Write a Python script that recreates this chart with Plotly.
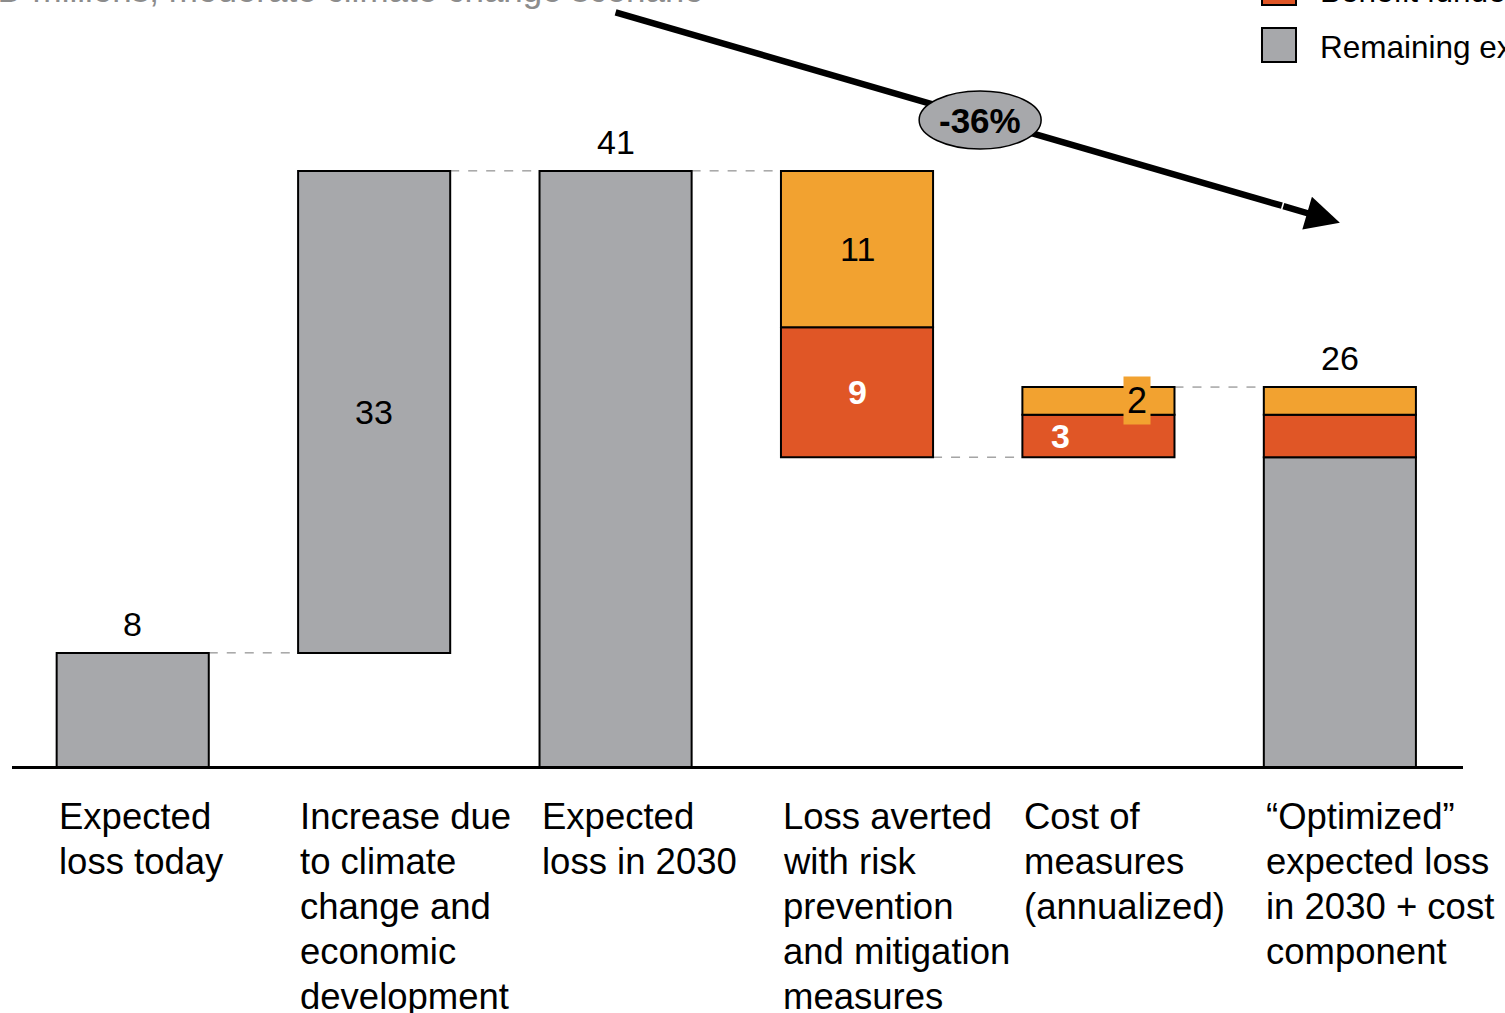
import plotly.graph_objects as go

# ---------------- data ----------------
categories = [
    ["Expected", "loss today"],
    ["Increase due", "to climate", "change and", "economic", "development"],
    ["Expected", "loss in 2030"],
    ["Loss averted", "with risk", "prevention", "and mitigation", "measures"],
    ["Cost of", "measures", "(annualized)"],
    ["\u201cOptimized\u201d", "expected loss", "in 2030 + cost", "component"],
]
loss_today = 7.95
increase = 33.0
loss_2030 = loss_today + increase          # ~41
averted_orange = 10.7
averted_red = 8.9
cost_red = 2.9
cost_orange = 1.9
remaining = loss_2030 - averted_orange - averted_red   # ~21
optimized = remaining + cost_red + cost_orange        # ~26
change_label = "-36%"

title_text = "USD millions, moderate climate change scenario"
legend_labels = ["Benefit funded", "Remaining expected loss"]

GREY = "#A7A8AB"
RED = "#E05626"
ORANGE = "#F2A230"
FONT = "Liberation Sans, Arial, sans-serif"

def fmt(v):
    return str(int(round(v)))

# grey bars
grey_x = [0, 1, 2, 5]
grey_base = [0, loss_today, 0, 0]
grey_y = [loss_today, increase, loss_2030, remaining]
# red bars
red_x = [3, 4, 5]
red_base = [remaining, remaining, remaining]
red_y = [averted_red, cost_red, cost_red]
# orange bars
orange_x = [3, 4, 5]
orange_base = [remaining + averted_red, remaining + cost_red, remaining + cost_red]
orange_y = [averted_orange, cost_orange, cost_orange]

BW = 0.63
W, H = 1505, 1013
ML, MR, MT, MB = 12, 42, 0, 244
YMAX = 52.65
XR = [-0.5, 5.51]
PXU_X = (W - ML - MR) / (XR[1] - XR[0])
PXU_Y = (H - MB - MT) / YMAX
BASE_PX = H - MB

def pxx(px):
    return (px - ML) / (W - ML - MR)

def pxy(py):
    return (BASE_PX - py) / (H - MB - MT)

fig = go.Figure()
line = dict(color="black", width=2)
fig.add_trace(go.Bar(x=grey_x, y=grey_y, base=grey_base, width=BW,
                     marker=dict(color=GREY, line=line), showlegend=False, hoverinfo="skip"))
fig.add_trace(go.Bar(x=red_x, y=red_y, base=red_base, width=BW,
                     marker=dict(color=RED, line=line), showlegend=False, hoverinfo="skip"))
fig.add_trace(go.Bar(x=orange_x, y=orange_y, base=orange_base, width=BW,
                     marker=dict(color=ORANGE, line=line), showlegend=False, hoverinfo="skip"))

shapes = []
# dashed connectors
conn = [(0, 1, loss_today), (1, 2, loss_2030), (2, 3, loss_2030),
        (3, 4, remaining), (4, 5, optimized)]
for a, b, v in conn:
    shapes.append(dict(type="line", xref="x", yref="y", x0=a + BW / 2, x1=b - BW / 2,
                       y0=v, y1=v, line=dict(color="#777777", width=1, dash="dash"), layer="below"))
# baseline axis
shapes.append(dict(type="line", xref="x", yref="y", x0=XR[0], x1=XR[1], y0=0, y1=0,
                   line=dict(color="black", width=6), layer="above"))

# trend arrow
tip_x, tip_y = 5.0, 37.4
start_x, start_y = 2.0, 51.8
ax_px, ay_px = -58, -17
tail_x = tip_x + ax_px / PXU_X
tail_y = tip_y - ay_px / PXU_Y
shapes.append(dict(type="line", xref="x", yref="y", x0=start_x, y0=start_y, x1=tail_x, y1=tail_y,
                   line=dict(color="black", width=6.5), layer="above"))
# ellipse
ell_x = 3.51
ell_y = (BASE_PX - 120) / PXU_Y
shapes.append(dict(type="circle", xref="x", yref="y", xsizemode="pixel", ysizemode="pixel",
                   xanchor=ell_x, yanchor=ell_y, x0=-61, x1=61, y0=-29, y1=29,
                   fillcolor=GREY, line=dict(color="black", width=1.5), layer="above"))
# legend boxes
shapes.append(dict(type="rect", xref="paper", yref="paper", x0=pxx(1262), x1=pxx(1296),
                   y0=pxy(5), y1=pxy(-28), fillcolor=RED, line=dict(color="black", width=2)))
shapes.append(dict(type="rect", xref="paper", yref="paper", x0=pxx(1262), x1=pxx(1296),
                   y0=pxy(62), y1=pxy(28), fillcolor=GREY, line=dict(color="black", width=2)))

ann = []
# category labels (one annotation per line, 45 px apart)
for i, lines in enumerate(categories):
    for k, t in enumerate(lines):
        ann.append(dict(x=i - BW / 2, y=0, xref="x", yref="y", text=t, showarrow=False,
                        xanchor="left", yanchor="middle", align="left", yshift=-47 - 45 * k,
                        font=dict(family=FONT, size=36.5, color="black")))
# totals above bars
for x, v in [(0, loss_today), (2, loss_2030), (5, optimized)]:
    ann.append(dict(x=x, y=v, xref="x", yref="y", text=fmt(v), showarrow=False,
                    yanchor="middle", yshift=29, font=dict(family=FONT, size=34, color="black")))
# inside labels
ann.append(dict(x=1, y=loss_today + increase / 2, text=fmt(increase), showarrow=False,
                font=dict(family=FONT, size=34, color="black")))
ann.append(dict(x=3, y=remaining + averted_red + averted_orange / 2, text=fmt(averted_orange),
                showarrow=False, font=dict(family=FONT, size=34, color="black")))
ann.append(dict(x=3, y=remaining + averted_red / 2, text="<b>%s</b>" % fmt(averted_red),
                showarrow=False, font=dict(family=FONT, size=34, color="white")))
ann.append(dict(x=4, y=remaining + cost_red / 2, text="<b>%s</b>" % fmt(cost_red), xshift=-38,
                showarrow=False, font=dict(family=FONT, size=34, color="white")))
ann.append(dict(x=4, y=remaining + cost_red + cost_orange / 2, text=fmt(cost_orange), xshift=39,
                showarrow=False, bgcolor=ORANGE, borderpad=3,
                font=dict(family=FONT, size=36, color="black")))
# arrowhead
ann.append(dict(x=tip_x, y=tip_y, xref="x", yref="y", ax=ax_px, ay=ay_px, text="",
                showarrow=True, arrowhead=2, arrowsize=1.05, arrowwidth=6.5, arrowcolor="black"))
# percentage label
ann.append(dict(x=ell_x, y=ell_y, text="<b>%s</b>" % change_label, showarrow=False,
                font=dict(family=FONT, size=35, color="black")))
# cut-off title
ann.append(dict(x=pxx(706), y=1, xref="paper", yref="paper", text=title_text, showarrow=False,
                xanchor="right", yanchor="bottom", yshift=-11.5,
                font=dict(family=FONT, size=35, color="#8C8C8C")))
# legend texts
ann.append(dict(x=pxx(1318), y=pxy(-9), xref="paper", yref="paper", text=legend_labels[0],
                showarrow=False, xanchor="left", yanchor="middle",
                font=dict(family=FONT, size=31.5, color="black")))
ann.append(dict(x=pxx(1318), y=pxy(47), xref="paper", yref="paper", text=legend_labels[1],
                showarrow=False, xanchor="left", yanchor="middle",
                font=dict(family=FONT, size=31.5, color="black")))

fig.update_layout(
    width=W, height=H,
    margin=dict(l=ML, r=MR, t=MT, b=MB),
    paper_bgcolor="white", plot_bgcolor="white",
    barmode="overlay",
    xaxis=dict(range=XR, visible=False, fixedrange=True),
    yaxis=dict(range=[0, YMAX], visible=False, fixedrange=True),
    shapes=shapes, annotations=ann,
    font=dict(family=FONT),
)

fig.write_html("out.html", config={"displayModeBar": False},
               post_script="document.body.style.margin='0px';")
